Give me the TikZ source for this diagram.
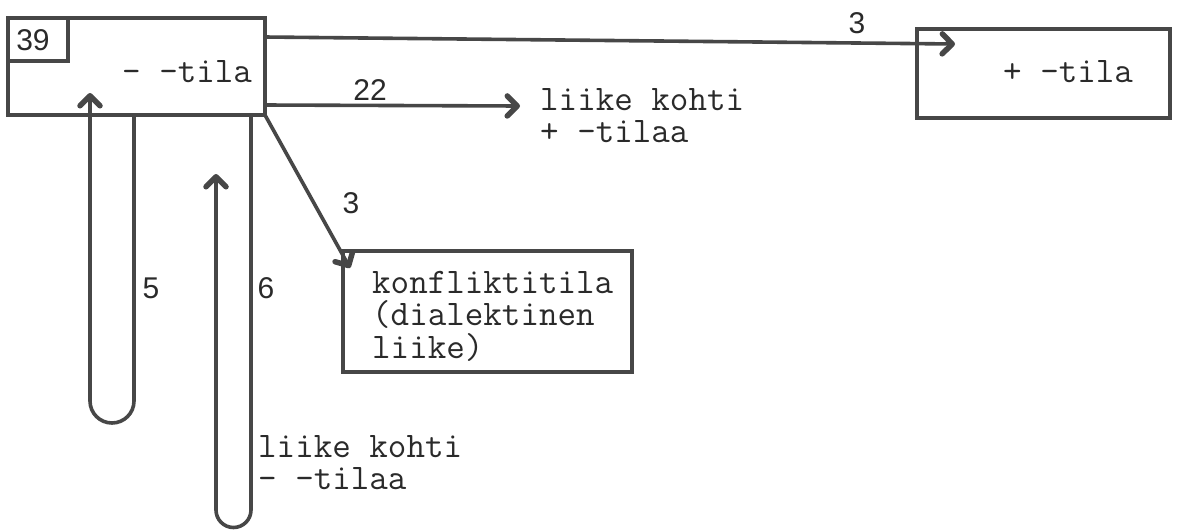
\documentclass[tikz,border=0pt]{standalone}
\usepackage{fontspec}
\newfontfamily\digitfont{Liberation Sans}
\usetikzlibrary{arrows.meta,calc}
\definecolor{ink}{HTML}{474747}
\definecolor{txt}{HTML}{2A2A2A}
\begin{document}
\begin{tikzpicture}[x=1pt,y=-1pt,
  box/.style={draw=ink, line width=4pt, rectangle, inner sep=0pt, outer sep=0pt, anchor=north west},
  conn/.style={draw=ink, line width=3.6pt, line cap=round, line join=round},
  tip/.style={-{Straight Barb[length=10pt,width=20pt,line width=5.5pt,round]}},
  tt/.style={inner sep=0pt, text=txt, font=\ttfamily\fontsize{36}{32.5}\selectfont\addfontfeatures{FakeBold=0.8}, align=left},
  num/.style={inner sep=0pt, text=txt, font=\digitfont\fontsize{30}{30}\selectfont}]
\useasboundingbox (0,0) rectangle (1177,531);
% boxes
\node[box, minimum width=257pt, minimum height=97pt] (A) at (8,18) {};
\node[box, minimum width=60pt, minimum height=43pt] (n39) at (8,18) {};
\node[num] (t39) at (33,40) {39};
\node[tt, anchor=base west] (tA) at (122,82) {- -tila};
\node[box, minimum width=253pt, minimum height=89pt] (B) at (917,29) {};
\node[tt, anchor=base west] (tB) at (1003,82) {+ -tila};
\node[box, minimum width=289pt, minimum height=121pt] (C) at (343,251) {};
\node[tt, anchor=north west] (tC) at (372,271) {konfliktitila\\(dialektinen\\liike)};
\node[tt, anchor=north west] (tP) at (540,88) {liike kohti\\+ -tilaa};
\node[tt, anchor=north west] (tM) at (258,435) {liike kohti\\- -tilaa};
% connectors
\coordinate (e22) at (520,106);
\draw[conn, tip] ($(A.north east)+(0,19)$) -- ($(B.north west)+(38,15)$);
\draw[conn, tip] ($(A.south east)+(0,-10)$) -- (e22);
\draw[conn, tip] (A.south east) -- ($(C.north west)+(7,17)$);
\draw[conn, tip] ($(A.south west)+(126,0)$) -- ++(0,286)
  arc[start angle=0,end angle=180,radius=22] -- ($(A.south west)+(82,-22)$);
\draw[conn, tip] ($(A.south west)+(243,0)$) -- ++(0,395)
  arc[start angle=0,end angle=180,radius=17.5] -- ($(A.south west)+(208,59)$);
% labels
\node[num] (l3a) at (857,23) {3};
\node[num] (l22) at (370,90) {22};
\node[num] (l3b) at (351,203) {3};
\node[num] (l5) at (151,288) {5};
\node[num] (l6) at (266,288) {6};
\end{tikzpicture}
\end{document}
